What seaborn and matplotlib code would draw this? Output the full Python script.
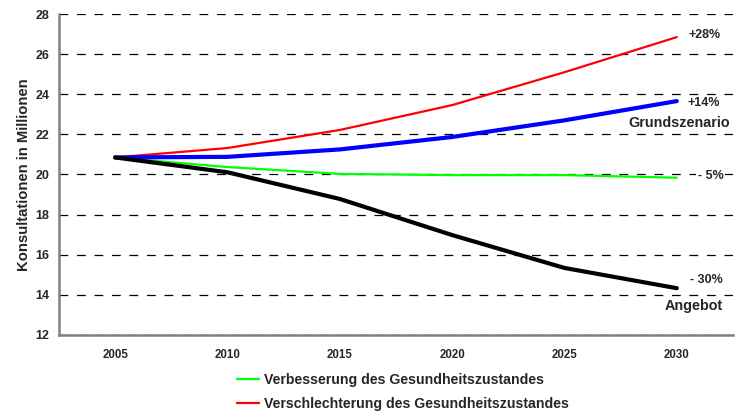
import pandas as pd
import matplotlib.pyplot as plt
import seaborn as sns
from matplotlib.lines import Line2D

# Daten
years = ['2005', '2010', '2015', '2020', '2025', '2030']
verbesserung = [20.85, 20.37, 20.03, 19.97, 19.97, 19.84]
verschlechterung = [20.85, 21.32, 22.22, 23.46, 25.10, 26.85]
grundszenario = [20.85, 20.88, 21.25, 21.87, 22.70, 23.66]
angebot = [20.85, 20.11, 18.78, 16.98, 15.34, 14.33]

series = {
    'Verbesserung des Gesundheitszustandes': verbesserung,
    'Verschlechterung des Gesundheitszustandes': verschlechterung,
    'Grundszenario': grundszenario,
    'Angebot': angebot,
}
colors = {
    'Verbesserung des Gesundheitszustandes': '#00ff00',
    'Verschlechterung des Gesundheitszustandes': '#ff0000',
    'Grundszenario': '#0000ff',
    'Angebot': '#000000',
}
widths = {
    'Verbesserung des Gesundheitszustandes': 1.6,
    'Verschlechterung des Gesundheitszustandes': 1.6,
    'Grundszenario': 3.0,
    'Angebot': 3.0,
}

df = pd.concat([pd.DataFrame({'Jahr': years, 'Wert': v, 'Szenario': k})
                for k, v in series.items()], ignore_index=True)

sns.set_style('white')
plt.rcParams['font.family'] = ['Liberation Sans', 'DejaVu Sans']
plt.rcParams['font.weight'] = 'bold'

fig = plt.figure(figsize=(7.4, 4.13), dpi=100)
ax = fig.add_axes([0.0797, 0.189, 0.9108, 0.777])

for name in series:
    sub = df[df['Szenario'] == name]
    sns.lineplot(data=sub, x='Jahr', y='Wert', color=colors[name],
                 linewidth=widths[name], ax=ax, legend=False, zorder=3)

ax.set_xlim(-0.5, 5.5)
ax.set_ylim(12, 28)
ax.set_yticks(range(12, 29, 2))
ax.set_xticks(range(len(years)))
ax.set_xticklabels(years, fontsize=8.3, fontweight='bold')
ax.set_xticks([i - 0.5 for i in range(len(years) + 1)], minor=True)
ax.tick_params(axis='x', which='major', length=0, pad=10)
ax.tick_params(axis='x', which='minor', length=5, width=1.2, color='#808080', direction='out')
ax.tick_params(axis='y', length=4, width=1.2, color='#808080', direction='out', labelsize=9, pad=3)
for lab in ax.get_yticklabels():
    lab.set_fontweight('bold')

ax.set_xlabel('')
ax.set_ylabel('Konsultationen in Millionen', fontsize=10.7, fontweight='bold', labelpad=3)

ax.yaxis.grid(True, color='black', linestyle=(0, (7, 7)), linewidth=0.9)
ax.set_axisbelow(True)

for side in ['top', 'right']:
    ax.spines[side].set_visible(False)
for side in ['left', 'bottom']:
    ax.spines[side].set_color('#808080')
    ax.spines[side].set_linewidth(1.8)

box = dict(facecolor='white', edgecolor='none', pad=1)
ax.text(5.25, 26.95, '+28%', fontsize=9, fontweight='bold', ha='center', va='center', zorder=4)
ax.text(5.24, 23.55, '+14%', fontsize=9, fontweight='bold', ha='center', va='center', zorder=4)
ax.text(5.02, 22.55, 'Grundszenario', fontsize=10.4, fontweight='bold', ha='center', va='center', bbox=box, zorder=4)
ax.text(5.30, 19.93, '- 5%', fontsize=9, fontweight='bold', ha='center', va='center', bbox=box, zorder=4)
ax.text(5.26, 14.75, '- 30%', fontsize=9, fontweight='bold', ha='center', va='center', bbox=box, zorder=4)
ax.text(5.15, 13.45, 'Angebot', fontsize=10.4, fontweight='bold', ha='center', va='center', bbox=box, zorder=4)

handles = [Line2D([], [], color=colors[n], linewidth=1.6) for n in list(series)[:2]]
fig.legend(handles, list(series)[:2], loc='lower left', bbox_to_anchor=(0.303, -0.026),
           frameon=False, handlelength=1.55, handletextpad=0.35,
           labelspacing=0.7, prop={'weight': 'bold', 'size': 10.2})

fig.savefig('out.png', dpi=100)
